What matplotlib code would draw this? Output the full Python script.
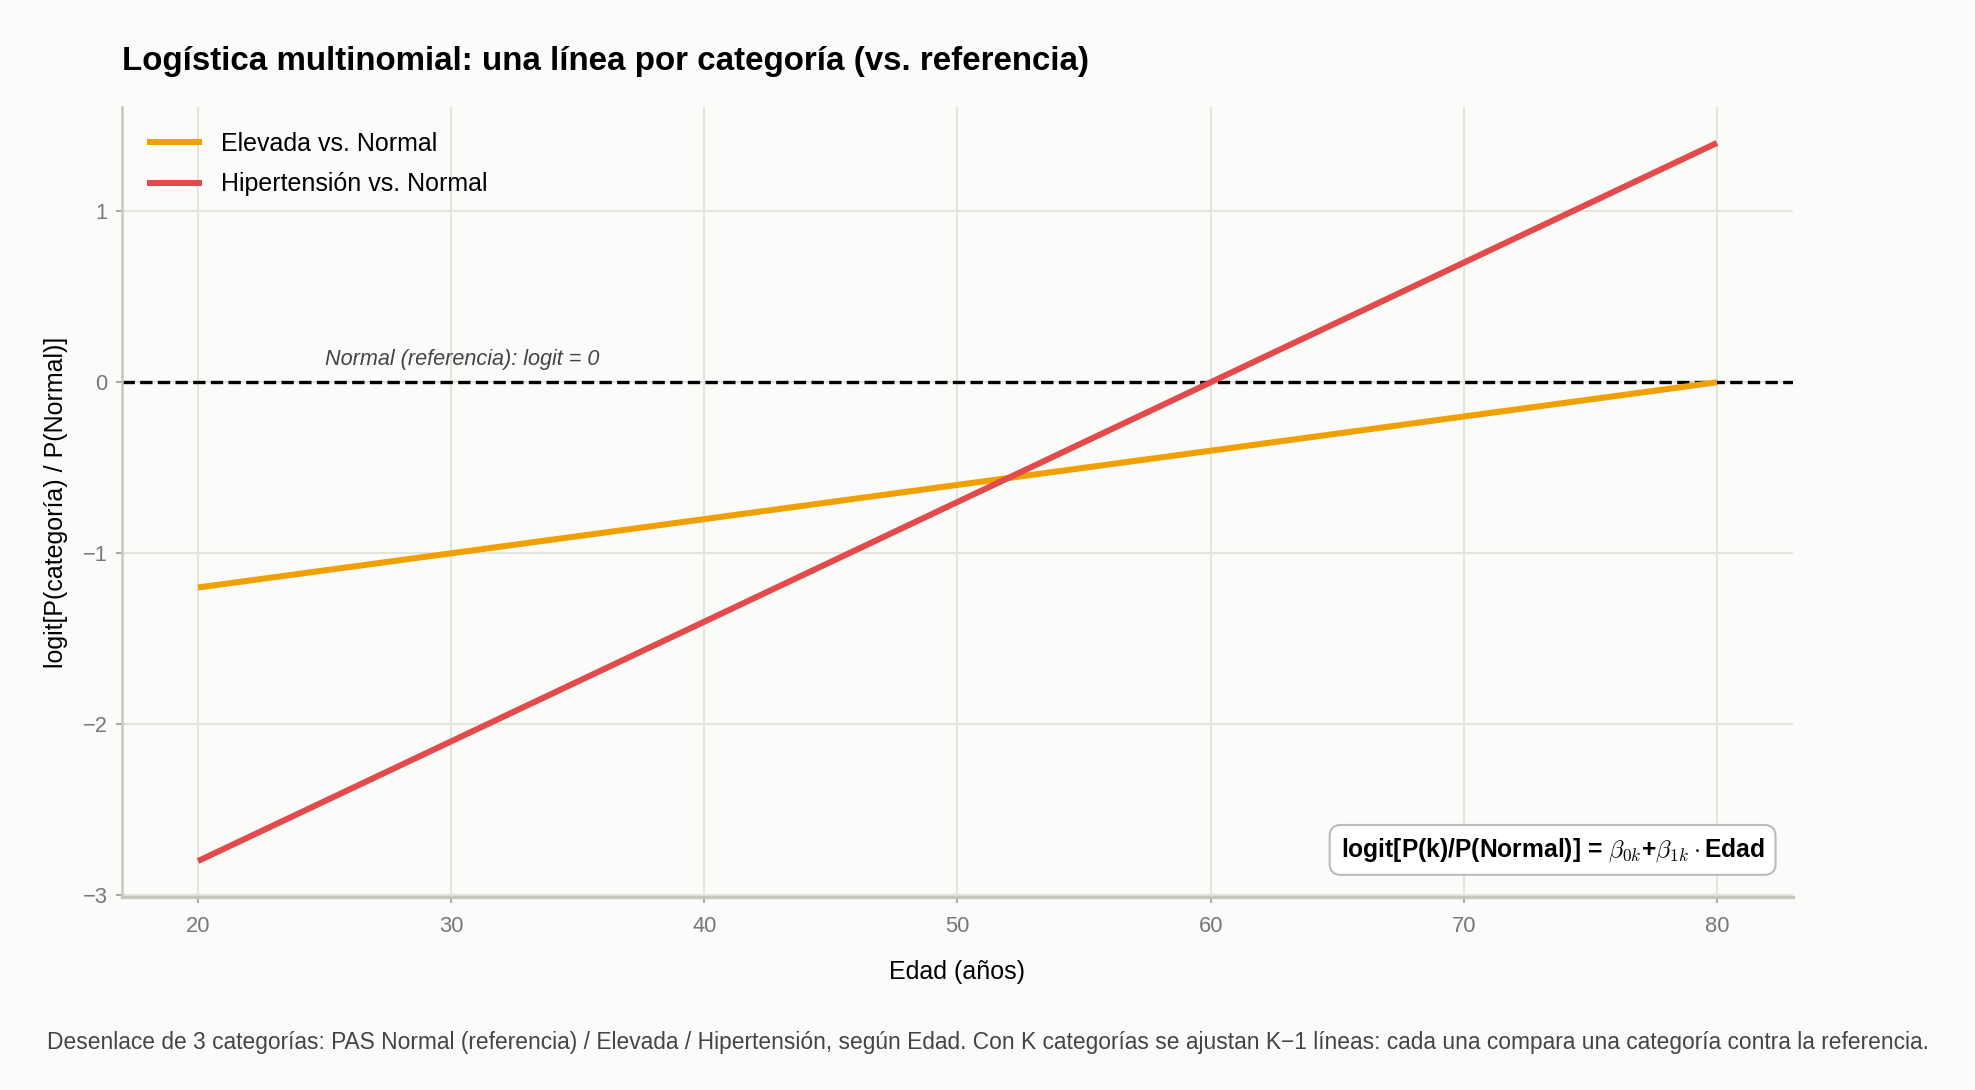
import numpy as np
import matplotlib
matplotlib.use("Agg")
import matplotlib.pyplot as plt

# datos
edad = [20, 30, 40, 50, 60, 70, 80]
logit_elevada = [-1.2, -1.0, -0.8, -0.6, -0.4, -0.2, 0.0]
logit_hipertension = [-2.8, -2.1, -1.4, -0.7, 0.0, 0.7, 1.4]
etiquetas = ["Elevada vs. Normal", "Hipertensión vs. Normal"]
colores = ["#F0A000", "#E34A4C"]

plt.rcParams["font.family"] = ["Liberation Sans", "DejaVu Sans"]
plt.rcParams["mathtext.fontset"] = "cm"

BG = "#FBFBF9"
fig = plt.figure(figsize=(1975 / 150, 1090 / 150), dpi=150, facecolor=BG)
ax = fig.add_axes([0.0618, 0.1771, 0.846, 0.7247], facecolor=BG)

ax.axhline(0, color="black", lw=1.6, ls="--", zorder=2)
for serie, etiqueta, color in zip([logit_elevada, logit_hipertension], etiquetas, colores):
    ax.plot(edad, serie, color=color, lw=2.9, label=etiqueta,
            solid_capstyle="butt", zorder=3)

ax.text(25, 0.07, "Normal (referencia): logit = 0", style="italic",
        fontsize=10.4, color="#444444", va="bottom", ha="left")

ax.text(0.983, 0.042,
        r"logit[P(k)/P(Normal)] = $\beta_{0k}$+$\beta_{1k}\cdot$Edad",
        transform=ax.transAxes, ha="right", va="bottom", fontsize=11.8,
        fontweight="bold",
        bbox=dict(boxstyle="round,pad=0.45", facecolor="white",
                  edgecolor="#BBBBBB", lw=1.0))

ax.set_xticks([20, 30, 40, 50, 60, 70, 80])
ax.set_yticks([-3, -2, -1, 0, 1])
ax.grid(True, color="#E4E4DE", lw=1.0, zorder=0)
ax.set_axisbelow(True)
for s in ["top", "right"]:
    ax.spines[s].set_visible(False)
ax.spines["left"].set_color("#C6C6BC")
ax.spines["bottom"].set_color("#C6C6BC")
ax.spines["left"].set_linewidth(1.2)
ax.spines["bottom"].set_linewidth(1.6)
ax.tick_params(colors="#777777", labelsize=10.5, length=3.0, width=0.8, pad=4)
ax.tick_params(axis="both", color="#999999")
ax.tick_params(axis="x", pad=6)

ax.set_xlabel("Edad (años)", fontsize=12, labelpad=11)
ax.set_ylabel("logit[P(categoría) / P(Normal)]", fontsize=12, labelpad=7)

ax.legend(loc="upper left", frameon=False, fontsize=12, handlelength=2.2,
          labelspacing=0.65, handletextpad=0.75, borderpad=0.5)

fig.text(0.0618, 0.9358, "Logística multinomial: una línea por categoría (vs. referencia)",
         fontsize=15.9, fontweight="bold", ha="left", va="baseline")
fig.text(0.5, 0.044,
         "Desenlace de 3 categorías: PAS Normal (referencia) / Elevada / Hipertensión, según Edad. "
         "Con K categorías se ajustan K−1 líneas: cada una compara una categoría contra la referencia.",
         fontsize=10.95, color="#444444", ha="center", va="center")

fig.savefig("out.png", dpi=150, facecolor=BG)
